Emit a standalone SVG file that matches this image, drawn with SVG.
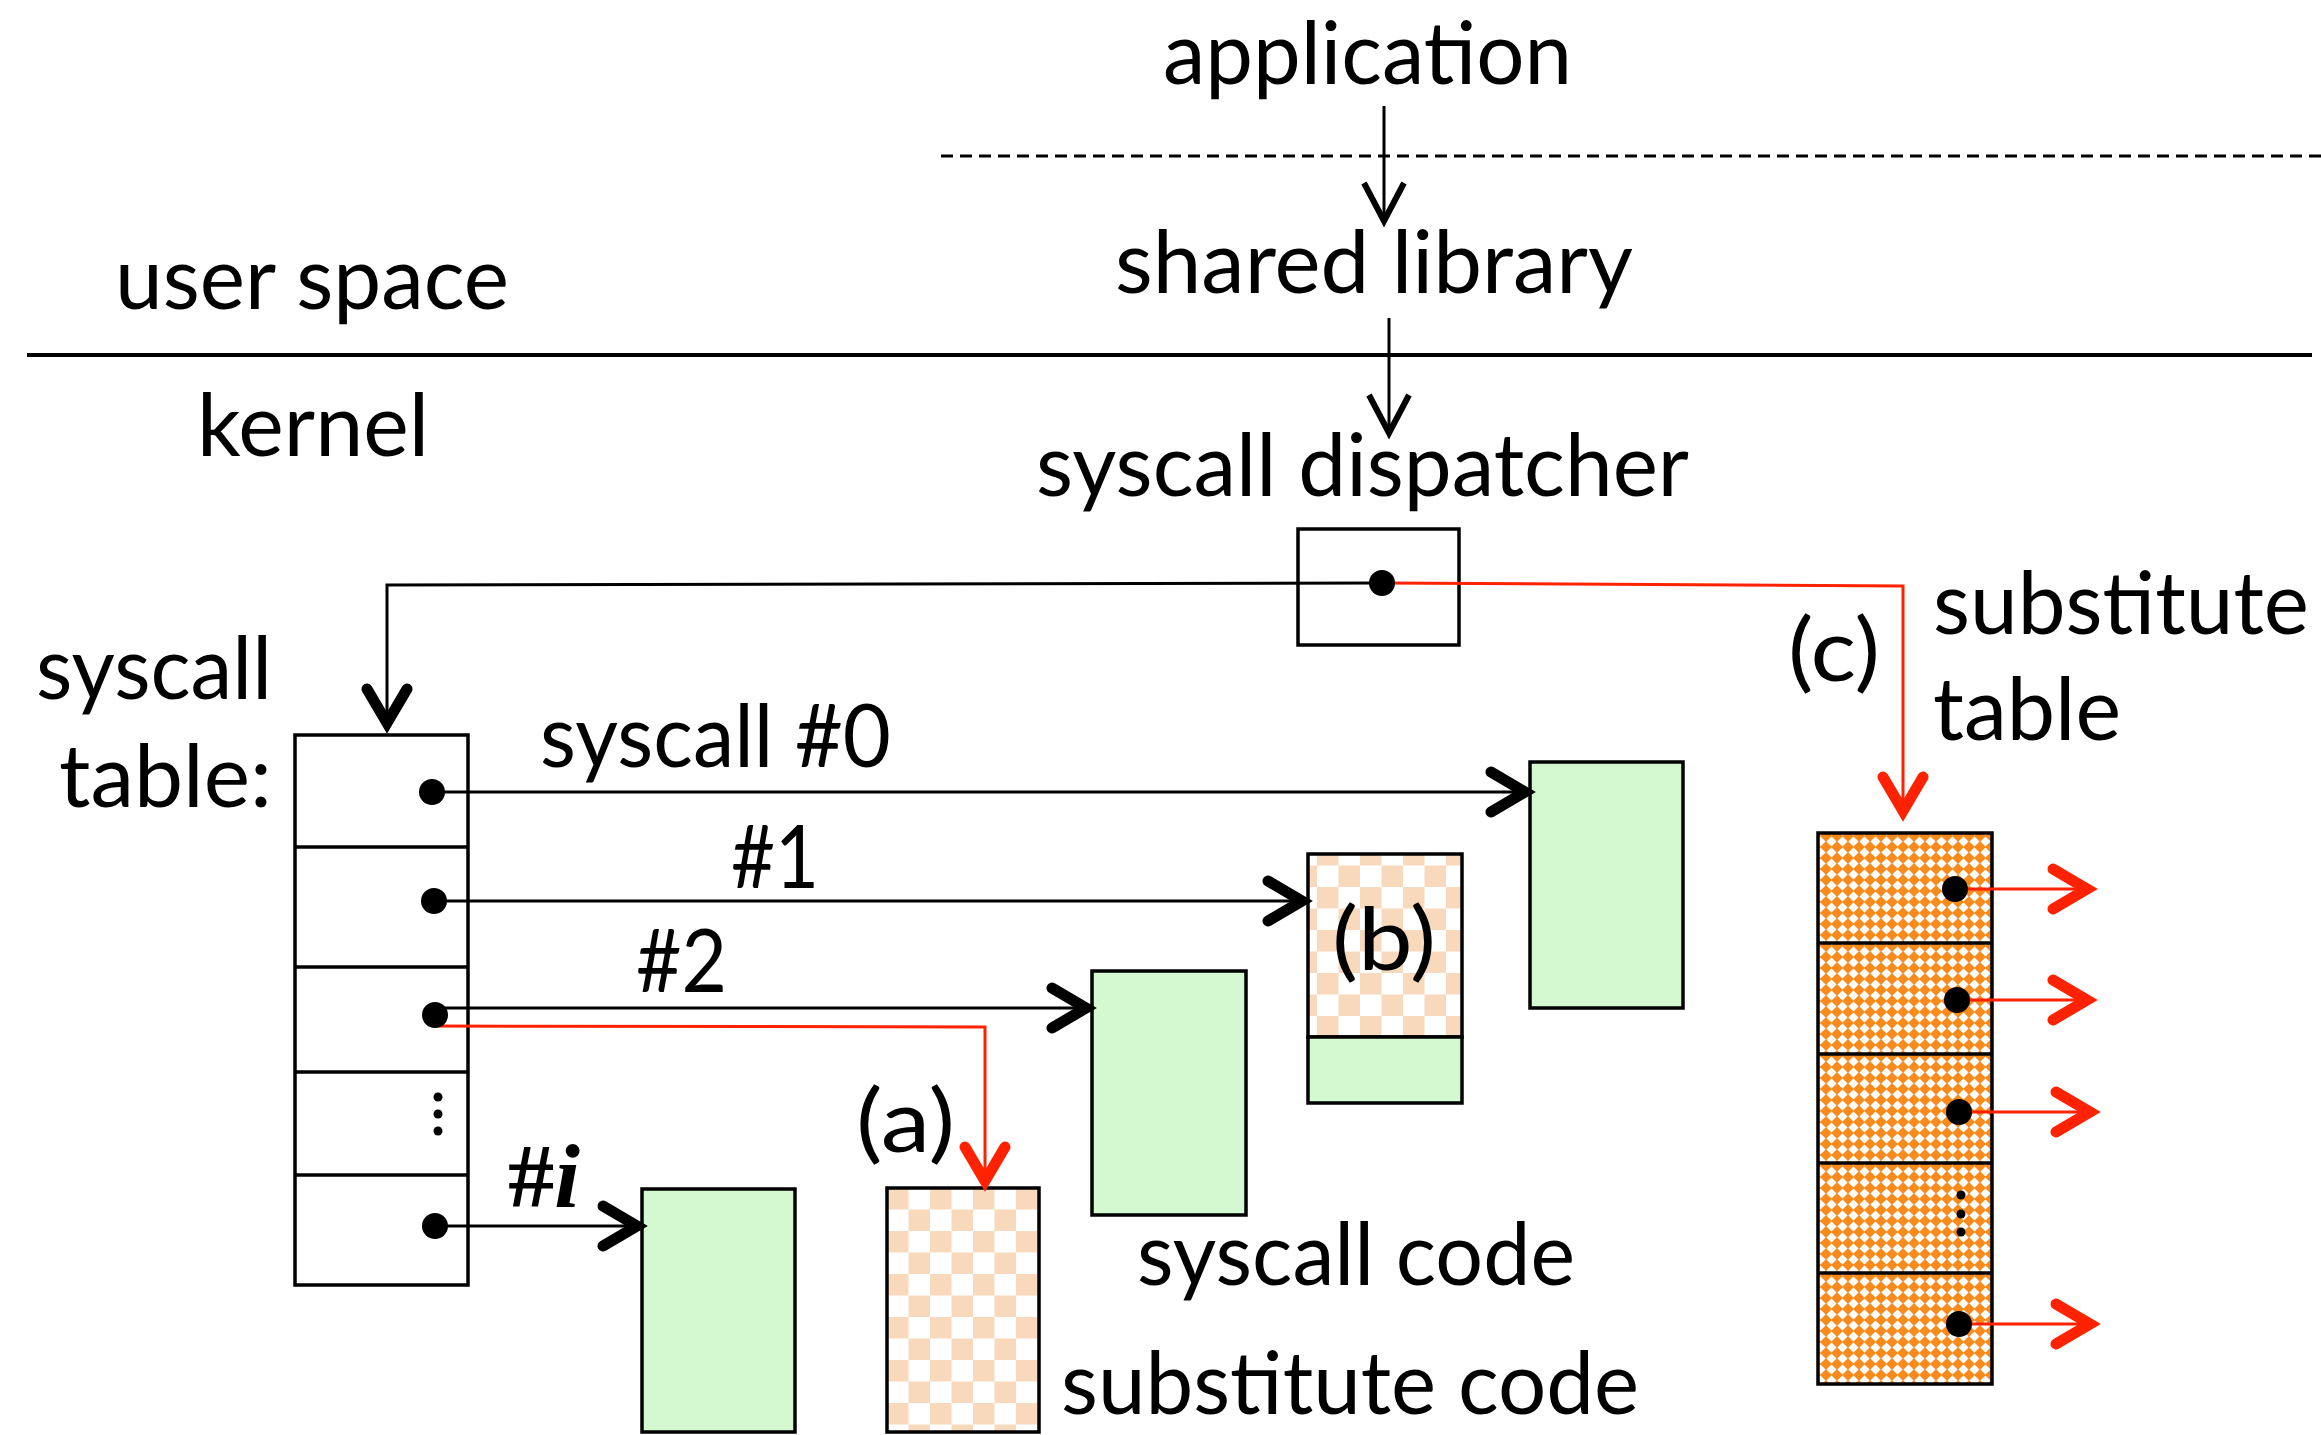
<svg xmlns="http://www.w3.org/2000/svg" xmlns:xlink="http://www.w3.org/1999/xlink" width="2321" height="1435" viewBox="0 0 2321 1435">
  <style>
    text { font-family: Lato, "Open Sans", "Liberation Sans", sans-serif; font-size: 88px; fill: #000; }
    .box { stroke: #000; stroke-width: 3.5; }
    .code { fill: #D4F8D0; stroke: #000; stroke-width: 3.5; }
    .subst { fill: url(#peach); stroke: #000; stroke-width: 3.5; }
    .wire { fill: none; stroke: #000; stroke-width: 3; }
    .red { fill: none; stroke: #FF2200; stroke-width: 3; }
    .dot { fill: #000; }
    .headK { fill: none; stroke: #000; stroke-width: 11; stroke-linecap: round; stroke-linejoin: miter; }
    .headR { fill: none; stroke: #FF2200; stroke-width: 11; stroke-linecap: round; stroke-linejoin: miter; }
    .headT { fill: none; stroke: #000; stroke-width: 6; stroke-linecap: butt; stroke-linejoin: miter; }
  </style>
  <defs>
    <!-- open chevron arrowhead, tip at the origin, pointing along +x -->
    <path id="chev" d="M-36,-20 L-2,0 L-36,20"/>
    <path id="chevLong" d="M-38,-20 L0,0 L-38,20"/>
    <!-- light checkerboard for substitute code -->
    <pattern id="peach" patternUnits="userSpaceOnUse" x="887" y="1188" width="43" height="43">
      <rect width="43" height="43" fill="#FFFFFF"/>
      <rect width="21.5" height="21.5" fill="#F9D9BC"/>
      <rect x="21.5" y="21.5" width="21.5" height="21.5" fill="#F9D9BC"/>
    </pattern>
    <!-- fine orange diamond checker for the substitute table -->
    <pattern id="orange" patternUnits="userSpaceOnUse" width="11" height="11">
      <rect width="11" height="11" fill="#F98A1C"/>
      <polygon points="5.5,0.4 10.6,5.5 5.5,10.6 0.4,5.5" fill="#FFFFFF"/>
    </pattern>
  </defs>

  <!-- layer boundaries -->
  <g id="boundaries">
    <line x1="941" y1="156" x2="2321" y2="156" stroke="#000" stroke-width="3" stroke-dasharray="12 7"/>
    <line x1="27" y1="355" x2="2312" y2="355" stroke="#000" stroke-width="4"/>
    <text x="115" y="309" textLength="394" lengthAdjust="spacingAndGlyphs">user space</text>
    <text x="197" y="456" textLength="232" lengthAdjust="spacingAndGlyphs">kernel</text>
  </g>

  <g id="application">
    <text x="1163" y="84" textLength="409" lengthAdjust="spacingAndGlyphs">application</text>
  </g>

  <g id="shared-library">
    <text x="1115" y="293" textLength="518" lengthAdjust="spacingAndGlyphs">shared library</text>
  </g>

  <g id="syscall-dispatcher">
    <text x="1036" y="496" textLength="653" lengthAdjust="spacingAndGlyphs">syscall dispatcher</text>
    <rect class="box" x="1298" y="529" width="161" height="116" fill="#FFFFFF"/>
  </g>

  <g id="syscall-table">
    <text x="272" y="699" text-anchor="end" textLength="236" lengthAdjust="spacingAndGlyphs">syscall</text>
    <text x="272" y="807" text-anchor="end" textLength="213" lengthAdjust="spacingAndGlyphs">table:</text>
    <rect class="box" x="295" y="735" width="173" height="550" fill="#FFFFFF"/>
    <line class="box" x1="295" y1="847" x2="468" y2="847"/>
    <line class="box" x1="295" y1="967" x2="468" y2="967"/>
    <line class="box" x1="295" y1="1072" x2="468" y2="1072"/>
    <line class="box" x1="295" y1="1175" x2="468" y2="1175"/>
    <circle class="dot" cx="438" cy="1097" r="4.5"/>
    <circle class="dot" cx="438" cy="1114" r="4.5"/>
    <circle class="dot" cx="438" cy="1131" r="4.5"/>
  </g>

  <g id="substitute-table">
    <text x="1933" y="634" textLength="376" lengthAdjust="spacingAndGlyphs">substitute</text>
    <text x="1933" y="740" textLength="188" lengthAdjust="spacingAndGlyphs">table</text>
    <rect x="1818" y="833" width="174" height="551" fill="url(#orange)" stroke="#000" stroke-width="3.5"/>
    <line class="box" x1="1818" y1="943" x2="1992" y2="943"/>
    <line class="box" x1="1818" y1="1054" x2="1992" y2="1054"/>
    <line class="box" x1="1818" y1="1163" x2="1992" y2="1163"/>
    <line class="box" x1="1818" y1="1273" x2="1992" y2="1273"/>
    <circle class="dot" cx="1961" cy="1195" r="4.5"/>
    <circle class="dot" cx="1961" cy="1214" r="4.5"/>
    <circle class="dot" cx="1961" cy="1232" r="4.5"/>
  </g>

  <g id="code-0">
    <rect class="code" x="1530" y="762" width="153" height="246"/>
  </g>

  <g id="code-1">
    <rect class="subst" x="1308" y="854" width="154" height="183"/>
    <rect class="code" x="1308" y="1037" width="154" height="66"/>
    <text x="1332" y="970" textLength="104" lengthAdjust="spacingAndGlyphs">(b)</text>
  </g>

  <g id="code-2">
    <rect class="code" x="1092" y="971" width="154" height="244"/>
  </g>

  <g id="code-i">
    <rect class="code" x="642" y="1189" width="153" height="243"/>
  </g>

  <g id="code-a">
    <rect class="subst" x="887" y="1188" width="152" height="244"/>
    <text x="856" y="1152" textLength="99" lengthAdjust="spacingAndGlyphs">(a)</text>
  </g>

  <g id="legend">
    <text x="1137" y="1285" textLength="438" lengthAdjust="spacingAndGlyphs">syscall code</text>
    <text x="1061" y="1414" textLength="578" lengthAdjust="spacingAndGlyphs">substitute code</text>
  </g>

  <!-- pointers and calls -->
  <g id="connectors">
    <line class="wire" x1="1384" y1="106" x2="1384" y2="221"/>
    <use xlink:href="#chevLong" href="#chevLong" class="headT" transform="translate(1384,221) rotate(90)"/>
    <line class="wire" x1="1389" y1="318" x2="1389" y2="433"/>
    <use xlink:href="#chevLong" href="#chevLong" class="headT" transform="translate(1389,433) rotate(90)"/>

    <polyline class="wire" points="1382,583 387,585 387,725"/>
    <use xlink:href="#chev" href="#chev" class="headK" transform="translate(387,725) rotate(90)"/>
    <polyline class="red" points="1382,583 1903,586 1903,813"/>
    <use xlink:href="#chev" href="#chev" class="headR" transform="translate(1903,813) rotate(90)"/>
    <text x="1788" y="681" textLength="92" lengthAdjust="spacingAndGlyphs">(c)</text>

    <line class="wire" x1="432" y1="792" x2="1527" y2="792"/>
    <use xlink:href="#chev" href="#chev" class="headK" transform="translate(1527,792)"/>
    <text x="540" y="767" textLength="351" lengthAdjust="spacingAndGlyphs">syscall #0</text>
    <line class="wire" x1="434" y1="901" x2="1304" y2="901"/>
    <use xlink:href="#chev" href="#chev" class="headK" transform="translate(1304,901)"/>
    <text x="731" y="888" textLength="88" lengthAdjust="spacingAndGlyphs">#1</text>
    <line class="wire" x1="435" y1="1008" x2="1088" y2="1008"/>
    <use xlink:href="#chev" href="#chev" class="headK" transform="translate(1088,1008)"/>
    <text x="636" y="992" textLength="91" lengthAdjust="spacingAndGlyphs">#2</text>
    <polyline class="red" points="435,1026 985,1027 985,1183"/>
    <use xlink:href="#chev" href="#chev" class="headR" transform="translate(985,1183) rotate(90)"/>
    <line class="wire" x1="435" y1="1226" x2="639" y2="1226"/>
    <use xlink:href="#chev" href="#chev" class="headK" transform="translate(639,1226)"/>
    <text x="508" y="1207" textLength="72" lengthAdjust="spacingAndGlyphs" style="font-family: 'Liberation Serif', 'DejaVu Serif', serif; font-size: 90px;"><tspan font-weight="bold">#</tspan><tspan font-style="italic" font-weight="bold">i</tspan></text>

    <line class="red" x1="1955" y1="889" x2="2087" y2="889"/>
    <use xlink:href="#chev" href="#chev" class="headR" transform="translate(2089,889)"/>
    <line class="red" x1="1957" y1="1000" x2="2087" y2="1000"/>
    <use xlink:href="#chev" href="#chev" class="headR" transform="translate(2089,1000)"/>
    <line class="red" x1="1959" y1="1112" x2="2090" y2="1112"/>
    <use xlink:href="#chev" href="#chev" class="headR" transform="translate(2092,1112)"/>
    <line class="red" x1="1959" y1="1324" x2="2090" y2="1324"/>
    <use xlink:href="#chev" href="#chev" class="headR" transform="translate(2092,1324)"/>

    <circle class="dot" cx="1382" cy="583" r="13"/>
    <circle class="dot" cx="432" cy="792" r="13"/>
    <circle class="dot" cx="434" cy="901" r="13"/>
    <circle class="dot" cx="435" cy="1015" r="13"/>
    <circle class="dot" cx="435" cy="1226" r="13"/>
    <circle class="dot" cx="1955" cy="889" r="13"/>
    <circle class="dot" cx="1957" cy="1000" r="13"/>
    <circle class="dot" cx="1959" cy="1112" r="13"/>
    <circle class="dot" cx="1959" cy="1324" r="13"/>
  </g>
</svg>
